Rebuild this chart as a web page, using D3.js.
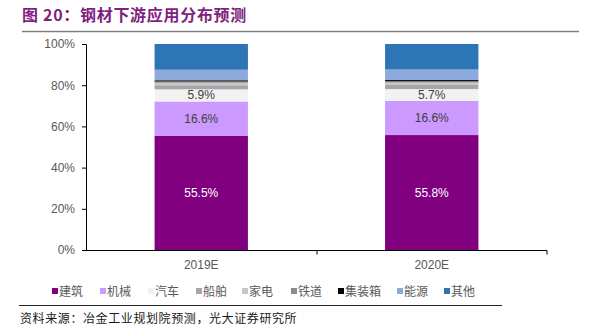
<!DOCTYPE html>
<html><head><meta charset="utf-8">
<script src="https://cdn.jsdelivr.net/npm/d3@7"></script>
<style>
body{margin:0;background:#fff;}
svg{display:block;font-family:Arial,"Liberation Sans",sans-serif;}
</style></head>
<body><svg id="c" width="604" height="332"></svg>
<script>
const categories = ["2019E", "2020E"];
const seriesNames = ["建筑","机械","汽车","船舶","家电","铁道","集装箱","能源","其他"];
const seriesColors = ["#800080","#CC99FF","#F2F2F2","#A6A6A6","#C8C8C8","#8C8C8C","#000000","#8EA9DB","#2E75B6"];
const values2019 = [55.5, 16.6, 5.9, 2.0, 1.2, 0.6, 0.6, 5.1, 12.5];
const values2020 = [55.8, 16.6, 5.7, 2.0, 1.2, 0.6, 0.6, 5.1, 12.4];
const labelled = [0, 1, 2];
const yTicks = [0, 20, 40, 60, 80, 100];
const legendX = [52, 100, 148, 196, 242, 291, 338, 397, 444];

const svg = d3.select("#c");
const CJK = "'Noto Sans CJK SC', sans-serif";

// title
svg.append("text").attr("x", 22).attr("y", 21)
  .attr("font-family", CJK).attr("font-weight", "bold").attr("font-size", 16)
  .attr("letter-spacing", 0.7).attr("fill", "#7F1F7F")
  .text("图 20：钢材下游应用分布预测");
svg.append("line").attr("x1", 22).attr("x2", 579).attr("y1", 31.5).attr("y2", 31.5)
  .attr("stroke", "#808080").attr("stroke-width", 1.5);

const x = d3.scaleBand().domain(categories).range([86, 547]).padding(0);
const y = d3.scaleLinear().domain([0, 100]).range([250, 44]);
const barW = x.bandwidth() * 0.405;

const table = categories.map((c, i) => {
  const vals = i === 0 ? values2019 : values2020;
  const o = {cat: c};
  seriesNames.forEach((s, j) => o[s] = vals[j]);
  return o;
});
const stacked = d3.stack().keys(seriesNames)(table);

stacked.forEach((layer, j) => {
  svg.append("g").selectAll("rect").data(layer).enter().append("rect")
    .attr("x", d => x(d.data.cat) + (x.bandwidth() - barW) / 2)
    .attr("width", barW)
    .attr("y", d => y(d[1]))
    .attr("height", d => y(d[0]) - y(d[1]))
    .attr("fill", seriesColors[j]);
  if (labelled.includes(j)) {
    svg.append("g").selectAll("text").data(layer).enter().append("text")
      .attr("x", d => x(d.data.cat) + x.bandwidth() / 2)
      .attr("y", d => (y(d[0]) + y(d[1])) / 2 + 4)
      .attr("text-anchor", "middle").attr("font-size", 12)
      .attr("fill", j === 0 ? "#ffffff" : "#404040")
      .text(d => (d[1] - d[0]).toFixed(1) + "%");
  }
});

// y axis
const ya = svg.append("g").attr("transform", "translate(86,0)")
  .call(d3.axisLeft(y).tickValues(yTicks).tickSize(4).tickFormat(d => d + "%"));
ya.select(".domain").attr("stroke", "#000").attr("d", "M-4,44.5H0.5V250.5");
ya.selectAll(".tick line").attr("stroke", "#000");
ya.selectAll(".tick text").attr("font-size", 12).attr("fill", "#595959")
  .attr("font-family", "Arial,'Liberation Sans',sans-serif").attr("x", -11);

// x axis
const xa = svg.append("g").attr("transform", "translate(0,250.5)")
  .call(d3.axisBottom(x).tickSize(0).tickPadding(10));
xa.select(".domain").attr("stroke", "#000").attr("d", "M86,0H547V4");
xa.selectAll(".tick text").attr("font-size", 12).attr("fill", "#595959")
  .attr("font-family", "Arial,'Liberation Sans',sans-serif");
svg.append("line").attr("x1", x.step() + 86.5).attr("x2", x.step() + 86.5)
  .attr("y1", 250.5).attr("y2", 254.5).attr("stroke", "#000");

// legend
const lg = svg.append("g");
seriesNames.forEach((s, j) => {
  lg.append("rect").attr("x", legendX[j]).attr("y", 288).attr("width", 6).attr("height", 6)
    .attr("fill", seriesColors[j]);
  lg.append("text").attr("x", legendX[j] + 7).attr("y", 296)
    .attr("font-family", CJK).attr("font-size", 12).attr("fill", "#595959").text(s);
});

svg.append("line").attr("x1", 19).attr("x2", 502).attr("y1", 305.5).attr("y2", 305.5)
  .attr("stroke", "#262626").attr("stroke-width", 1);
svg.append("text").attr("x", 20).attr("y", 323)
  .attr("font-family", CJK).attr("font-size", 12).attr("letter-spacing", 0.6).attr("fill", "#1a1a1a")
  .text("资料来源：冶金工业规划院预测，光大证券研究所");
</script></body></html>
